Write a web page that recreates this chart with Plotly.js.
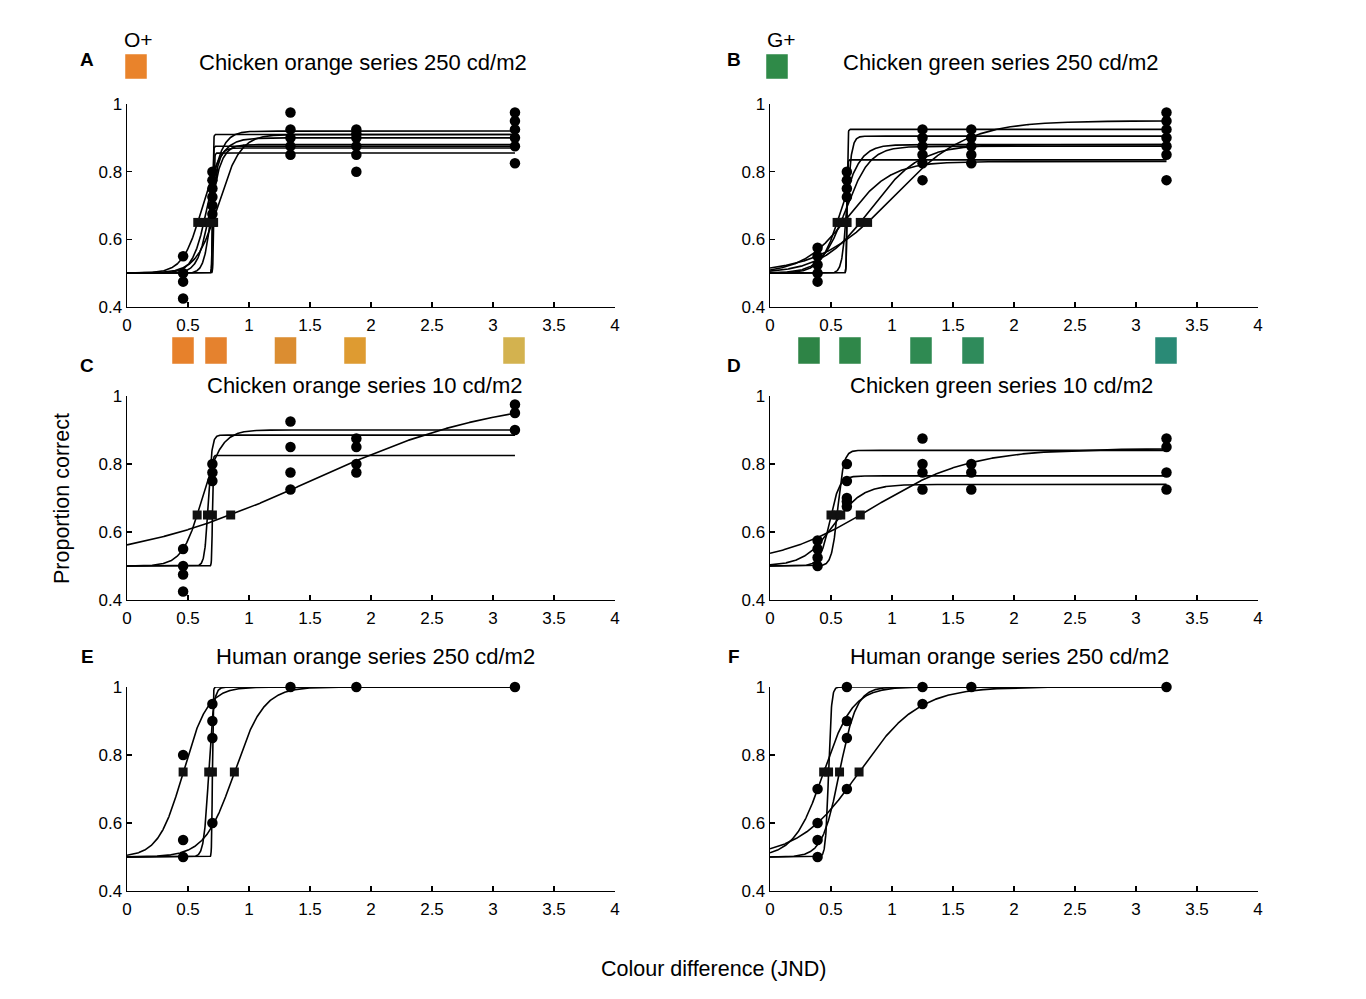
<!DOCTYPE html>
<html><head><meta charset="utf-8">
<script src="https://cdn.plot.ly/plotly-3.0.1.min.js"></script>
<style>html,body{margin:0;padding:0;background:#fff}#chart{width:1366px;height:999px}</style>
</head><body><div id="chart"></div>
<script>
// ---------- DATA ----------
const xTickVals = [0, 0.5, 1, 1.5, 2, 2.5, 3, 3.5, 4];
const xTickText = ['0', '0.5', '1', '1.5', '2', '2.5', '3', '3.5', '4'];
const yTickVals = [0.4, 0.6, 0.8, 1];
const yTickText = ['0.4', '0.6', '0.8', '1'];

const guessRate = 0.5;
const chickenCriterion = 0.65;
const humanCriterion = 0.75;

// Stimulus levels (JND)
const orangeLevels = [0.46, 0.70, 1.34, 1.88, 3.18];
const greenLevels = [0.39, 0.63, 1.25, 1.65, 3.25];

// A: Chicken orange series 250 cd/m2
const aProps = [[0.55, 0.5, 0.475, 0.425], [0.8, 0.775, 0.75, 0.725, 0.7, 0.675], [0.975, 0.925, 0.9, 0.875, 0.85], [0.925, 0.9125, 0.9, 0.875, 0.85, 0.8], [0.975, 0.95, 0.925, 0.9, 0.875, 0.825]];
const aThresh = [0.70, 0.70, 0.71, 0.58, 0.63, 0.66, 0.70, 0.68];
const aSlope = [0.003, 0.003, 0.003, 0.08, 0.06, 0.05, 0.09, 0.03];
const aUpper = [0.91, 0.875, 0.855, 0.90, 0.92, 0.88, 0.91, 0.87];

// B: Chicken green series 250 cd/m2
const bProps = [[0.575, 0.55, 0.525, 0.5, 0.475], [0.8, 0.775, 0.75, 0.725], [0.925, 0.9, 0.875, 0.85, 0.825, 0.775], [0.925, 0.9, 0.875, 0.85, 0.825], [0.975, 0.95, 0.925, 0.9, 0.875, 0.85, 0.775]];
const bThresh = [0.63, 0.63, 0.62, 0.55, 0.58, 0.74, 0.80, 0.60];
const bSlope = [0.003, 0.003, 0.02, 0.08, 0.1, 0.2, 0.3, 0.18];
const bUpper = [0.925, 0.835, 0.905, 0.88, 0.875, 0.88, 0.95, 0.83];

// C: Chicken orange series 10 cd/m2
const cProps = [[0.55, 0.5, 0.475, 0.425], [0.8, 0.775, 0.75], [0.925, 0.85, 0.775, 0.725], [0.875, 0.85, 0.8, 0.775], [0.975, 0.95, 0.9]];
const cThresh = [0.70, 0.66, 0.575, 0.85];
const cSlope = [0.003, 0.015, 0.08, 0.77];
const cUpper = [0.825, 0.885, 0.90, 1.0];

// D: Chicken green series 10 cd/m2
const dProps = [[0.575, 0.55, 0.525, 0.5], [0.8, 0.75, 0.7, 0.69, 0.675], [0.875, 0.8, 0.775, 0.725], [0.8, 0.775, 0.725], [0.875, 0.85, 0.775, 0.725]];
const dThresh = [0.55, 0.50, 0.58, 0.74];
const dSlope = [0.025, 0.04, 0.12, 0.4];
const dUpper = [0.84, 0.765, 0.74, 0.845];

// E: Human orange series 250 cd/m2
const eProps = [[0.8, 0.55, 0.5], [0.95, 0.9, 0.85, 0.6], [1], [1], [1]];
const eThresh = [0.46, 0.70, 0.67, 0.88];
const eSlope = [0.1, 0.003, 0.02, 0.12];
const eUpper = [1, 1, 1, 1];

// F: Human orange series 250 cd/m2 (second panel)
const fProps = [[0.7, 0.6, 0.55, 0.5], [1, 0.9, 0.85, 0.7], [1, 0.95], [1], [1]];
const fThresh = [0.48, 0.44, 0.57, 0.73];
const fSlope = [0.012, 0.12, 0.07, 0.245];
const fUpper = [1, 1, 1, 1];

const panelTitles = ['Chicken orange series 250 cd/m2', 'Chicken green series 250 cd/m2', 'Chicken orange series 10 cd/m2', 'Chicken green series 10 cd/m2', 'Human orange series 250 cd/m2', 'Human orange series 250 cd/m2'];
const panelLetters = ['A', 'B', 'C', 'D', 'E', 'F'];
const orangeSwatches = ['#E7812B', '#E5822E', '#DB8D31', '#DE9B31', '#D3B24F'];
const greenSwatches = ['#2E8446', '#2F8749', '#2F8A52', '#2F8B5B', '#2A8A76'];
const orangeRef = '#E9832B';
const greenRef = '#2F8A48';

// ---------- LAYOUT HELPERS ----------
const W = 1366, H = 999;
const px = v => v / W, py = v => 1 - v / H;

function psych(x, t, s, u, crit) {
  const g = guessRate;
  const L = (crit - g) / (u - g);
  const mu = t - s * Math.log(L / (1 - L));
  return g + (u - g) / (1 + Math.exp(-(x - mu) / s));
}

const panels = [
  {n: '', X: orangeLevels, P: aProps, T: aThresh, S: aSlope, U: aUpper, crit: chickenCriterion},
  {n: '2', X: greenLevels, P: bProps, T: bThresh, S: bSlope, U: bUpper, crit: chickenCriterion},
  {n: '3', X: orangeLevels, P: cProps, T: cThresh, S: cSlope, U: cUpper, crit: chickenCriterion},
  {n: '4', X: greenLevels, P: dProps, T: dThresh, S: dSlope, U: dUpper, crit: chickenCriterion},
  {n: '5', X: orangeLevels, P: eProps, T: eThresh, S: eSlope, U: eUpper, crit: humanCriterion},
  {n: '6', X: greenLevels, P: fProps, T: fThresh, S: fSlope, U: fUpper, crit: humanCriterion}
];

const traces = [];
panels.forEach(p => {
  const xa = 'x' + p.n, ya = 'y' + p.n;
  const xEnd = p.X[p.X.length - 1];
  const N = 1600;
  p.T.forEach((t, i) => {
    const xs = [], ys = [];
    for (let k = 0; k <= N; k++) {
      const x = xEnd * k / N;
      xs.push(x);
      ys.push(psych(x, t, p.S[i], p.U[i], p.crit));
    }
    traces.push({type: 'scatter', mode: 'lines', x: xs, y: ys, xaxis: xa, yaxis: ya,
      line: {color: '#000', width: 1.6}, hoverinfo: 'skip', showlegend: false});
  });
  traces.push({type: 'scatter', mode: 'markers', x: p.T, y: p.T.map(() => p.crit), xaxis: xa, yaxis: ya,
    marker: {symbol: 'square', size: 9, color: '#111'}, cliponaxis: false, showlegend: false});
  const dx = [], dy = [];
  p.X.forEach((x, i) => p.P[i].forEach(v => { dx.push(x); dy.push(v); }));
  traces.push({type: 'scatter', mode: 'markers', x: dx, y: dy, xaxis: xa, yaxis: ya,
    marker: {symbol: 'circle', size: 10.5, color: '#000'}, cliponaxis: false, showlegend: false});
});

function xax(l, r, anchor) {
  return {domain: [px(l), px(r)], anchor: anchor, range: [0, 4], showline: true, linecolor: '#000', linewidth: 1.4,
    ticks: 'inside', ticklen: 5, tickwidth: 1.2, tickcolor: '#000', tickvals: xTickVals, ticktext: xTickText,
    ticklabelstandoff: 2,
    showgrid: false, zeroline: false, tickfont: {size: 17, color: '#000'}, fixedrange: true};
}
function yax(top, bot, anchor) {
  return {domain: [py(bot), py(top)], anchor: anchor, range: [0.4, 1], showline: true, linecolor: '#000', linewidth: 1.4,
    ticks: 'inside', ticklen: 5, tickwidth: 1.2, tickcolor: '#000', tickvals: yTickVals, ticktext: yTickText,
    showgrid: false, zeroline: false, tickfont: {size: 17, color: '#000'}, fixedrange: true};
}

const Lx = [127, 615], Rx = [770, 1258];
const rows = [[104, 307], [396, 600], [687, 891]];

const layout = {
  width: W, height: H, margin: {l: 0, r: 0, t: 0, b: 0}, paper_bgcolor: '#fff', plot_bgcolor: 'rgba(0,0,0,0)',
  font: {family: 'Liberation Sans, Arial, sans-serif', color: '#000'}, showlegend: false,
  xaxis: xax(Lx[0], Lx[1], 'y'), yaxis: yax(rows[0][0], rows[0][1], 'x'),
  xaxis2: xax(Rx[0], Rx[1], 'y2'), yaxis2: yax(rows[0][0], rows[0][1], 'x2'),
  xaxis3: xax(Lx[0], Lx[1], 'y3'), yaxis3: yax(rows[1][0], rows[1][1], 'x3'),
  xaxis4: xax(Rx[0], Rx[1], 'y4'), yaxis4: yax(rows[1][0], rows[1][1], 'x4'),
  xaxis5: xax(Lx[0], Lx[1], 'y5'), yaxis5: yax(rows[2][0], rows[2][1], 'x5'),
  xaxis6: xax(Rx[0], Rx[1], 'y6'), yaxis6: yax(rows[2][0], rows[2][1], 'x6'),
  annotations: [], shapes: []
};

const ann = (text, x, y, size, extra) => Object.assign({text: text, x: px(x), y: py(y), xref: 'paper', yref: 'paper',
  showarrow: false, xanchor: 'center', yanchor: 'middle', font: {size: size, color: '#000'}}, extra || {});

const letterPos = [[87, 60], [734, 60], [87, 366], [734, 366], [87, 656], [734, 656]];
const titlePos = [[363, 62], [1001, 62], [365, 385], [1001, 385], [375, 656], [1009, 656]];
panelLetters.forEach((l, i) => layout.annotations.push(ann('<b>' + l + '</b>', letterPos[i][0], letterPos[i][1], 19)));
panelTitles.forEach((t, i) => layout.annotations.push(ann(t, titlePos[i][0], titlePos[i][1], 22)));
layout.annotations.push(ann('O+', 138, 40, 21));
layout.annotations.push(ann('G+', 781, 40, 21));
layout.annotations.push(ann('Proportion correct', 62, 499, 21.5, {textangle: -90}));
layout.annotations.push(ann('Colour difference (JND)', 713, 969, 21.5));

const box = (x0, y0, x1, y1, c) => ({type: 'rect', xref: 'paper', yref: 'paper', x0: px(x0), x1: px(x1), y0: py(y1), y1: py(y0),
  fillcolor: c, line: {width: 0.8, color: 'rgba(255,255,255,0.6)'}, layer: 'above'});
layout.shapes.push(box(125, 54, 147, 79, orangeRef));
layout.shapes.push(box(766, 54, 788, 79, greenRef));
const oCenters = [183, 216, 285.5, 355, 514];
const gCenters = [809, 850, 921, 973, 1166];
oCenters.forEach((c, i) => layout.shapes.push(box(c - 11, 337, c + 11, 364, orangeSwatches[i])));
gCenters.forEach((c, i) => layout.shapes.push(box(c - 11, 337, c + 11, 364, greenSwatches[i])));

Plotly.newPlot('chart', traces, layout, {staticPlot: true, displayModeBar: false});
</script></body></html>
